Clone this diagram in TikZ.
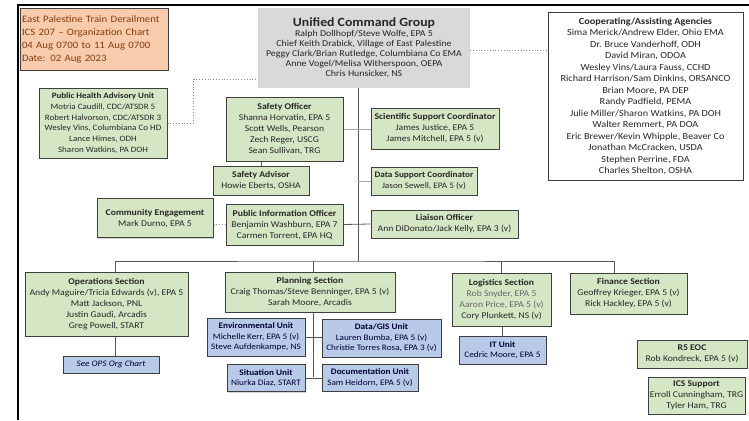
\documentclass[tikz,border=0pt]{standalone}
\usepackage{fontspec}
\setmainfont{Carlito}[FakeStretch=1.1]
\usetikzlibrary{shadows}

\definecolor{boxgreen}{HTML}{D5E6C5}
\definecolor{boxblue}{HTML}{B9CAE8}
\definecolor{boxgray}{HTML}{D9D9D9}
\definecolor{boxpeach}{HTML}{F8CBAD}
\definecolor{titletext}{HTML}{843C0C}
\definecolor{boxline}{HTML}{3F3F3F}
\definecolor{linkgray}{HTML}{595959}

\tikzset{
  orgbox/.style={draw=boxline, line width=1pt, align=center, inner sep=1pt,
    text=black!85, font=\fontsize{8.8}{11}\selectfont,
    drop shadow={opacity=0.35, shadow xshift=1.3pt, shadow yshift=-1.3pt}},
  greenbox/.style={orgbox, fill=boxgreen},
  bluebox/.style={orgbox, fill=boxblue, text=blue!20!black, font=\fontsize{8.4}{10.5}\selectfont},
  link/.style={draw=linkgray, line width=0.8pt},
  thinlink/.style={draw=black!35, line width=0.7pt},
  dotlink/.style={draw=black!45, line width=0.8pt, dotted},
}

\begin{document}
\begin{tikzpicture}[x=1pt, y=-1pt]
    \useasboundingbox (0,0) rectangle (749,420);
    \draw[line width=1.5pt] (18,420) -- (18,5) -- (749,5);

    % header and command
    \node[orgbox, fill=boxpeach, align=left, text width=144pt, inner xsep=2pt, inner ysep=4pt, minimum height=61pt,
      text=titletext, font=\fontsize{9.8}{13}\selectfont] (title) at (94,39.5)
      {East Palestine Train Derailment\\ ICS 207 -- Organization Chart\\ 04 Aug 0700 to 11 Aug 0700\\ Date: 02 Aug 2023};
    \node[fill=boxgray, align=center, text=black!85, font=\fontsize{9}{10}\selectfont,
      minimum width=212pt, minimum height=80pt] (uc) at (364,48)
      {{\fontsize{12.5}{14}\selectfont\textbf{Unified Command Group}}\\
       Ralph Dollhopf/Steve Wolfe, EPA 5\\ Chief Keith Drabick, Village of East Palestine\\
       Peggy Clark/Brian Rutledge, Columbiana Co EMA\\ Anne Vogel/Melisa Witherspoon, OEPA\\ Chris Hunsicker, NS};
    \node[orgbox, fill=white, font=\fontsize{9.3}{11.5}\selectfont,
      minimum width=195pt, minimum height=167pt] (agencies) at (645.5,96.5)
      {\textbf{Cooperating/Assisting Agencies}\\ Sima Merick/Andrew Elder, Ohio EMA\\ Dr. Bruce Vanderhoff, ODH\\
       David Miran, ODOA\\ Wesley Vins/Laura Fauss, CCHD\\ Richard Harrison/Sam Dinkins, ORSANCO\\
       Brian Moore, PA DEP\\ Randy Padfield, PEMA\\ Julie Miller/Sharon Watkins, PA DOH\\
       Walter Remmert, PA DOA\\ Eric Brewer/Kevin Whipple, Beaver Co\\ Jonathan McCracken, USDA\\
       Stephen Perrine, FDA\\ Charles Shelton, OSHA};

    % command staff
    \node[greenbox, font=\fontsize{8.2}{10.7}\selectfont, minimum width=128pt, minimum height=70pt] (health) at (103,123)
      {\textbf{Public Health Advisory Unit}\\ Motria Caudill, CDC/ATSDR 5\\ Robert Halvorson, CDC/ATSDR 3\\
       Wesley Vins, Columbiana Co HD\\ Lance Himes, ODH\\ Sharon Watkins, PA DOH};
    \node[greenbox, minimum width=117pt, minimum height=64pt] (safety) at (284.5,129)
      {\textbf{Safety Officer}\\ Shanna Horvatin, EPA 5\\ Scott Wells, Pearson\\ Zech Reger, USCG\\ Sean Sullivan, TRG};
    \node[greenbox, minimum width=128pt, minimum height=41pt] (science) at (435,128.5)
      {\textbf{Scientific Support Coordinator}\\ James Justice, EPA 5\\ James Mitchell, EPA 5 (v)};
    \node[greenbox, minimum width=96pt, minimum height=29pt] (advisor) at (261,180.5)
      {\textbf{Safety Advisor}\\ Howie Eberts, OSHA};
    \node[greenbox, font=\fontsize{8.4}{11}\selectfont, minimum width=106pt, minimum height=28pt] (datasup) at (424,181)
      {\textbf{Data Support Coordinator}\\ Jason Sewell, EPA 5 (v)};
    \node[greenbox, minimum width=117pt, minimum height=41pt] (pio) at (284.5,224.5)
      {\textbf{Public Information Officer}\\ Benjamin Washburn, EPA 7\\ Carmen Torrent, EPA HQ};
    \node[greenbox, minimum width=116pt, minimum height=39pt] (community) at (155,218)
      {\textbf{Community Engagement}\\ Mark Durno, EPA 5};
    \node[greenbox, minimum width=147pt, minimum height=28pt] (liaison) at (444.5,224)
      {\textbf{Liaison Officer}\\ Ann DiDonato/Jack Kelly, EPA 3 (v)};

    % general staff
    \node[greenbox, minimum width=163pt, minimum height=64pt] (ops) at (106.5,304)
      {\textbf{Operations Section}\\ Andy Maguire/Tricia Edwards (v), EPA 5\\ Matt Jackson, PNL\\
       Justin Gaudi, Arcadis\\ Greg Powell, START};
    \node[bluebox, minimum width=96pt, minimum height=17pt] (seeops) at (111,364.5)
      {\textit{See OPS Org Chart}};
    \node[greenbox, minimum width=170pt, minimum height=40pt] (planning) at (310,292)
      {\textbf{Planning Section}\\ Craig Thomas/Steve Benninger, EPA 5 (v)\\ Sarah Moore, Arcadis};
    \node[bluebox, minimum width=98pt, minimum height=38pt] (env) at (256,337)
      {\textbf{Environmental Unit}\\ Michelle Kerr, EPA 5 (v)\\ Steve Aufdenkampe, NS};
    \node[bluebox, minimum width=119pt, minimum height=38pt] (gis) at (381.5,338)
      {\textbf{Data/GIS Unit}\\ Lauren Bumba, EPA 5 (v)\\ Christie Torres Rosa, EPA 3 (v)};
    \node[bluebox, minimum width=78pt, minimum height=27pt] (situation) at (266,378)
      {\textbf{Situation Unit}\\ Niurka Diaz, START};
    \node[bluebox, minimum width=96pt, minimum height=27pt] (documentation) at (370,377.5)
      {\textbf{Documentation Unit}\\ Sam Heidorn, EPA 5 (v)};
    \node[greenbox, minimum width=99pt, minimum height=53pt] (logistics) at (501.5,299.5)
      {\textbf{Logistics Section}\\ {\color{black!60}Rob Snyder, EPA 5}\\ {\color{black!60}Aaron Price, EPA 5 (v)}\\ Cory Plunkett, NS (v)};
    \node[bluebox, minimum width=87pt, minimum height=28pt] (it) at (502.5,350)
      {\textbf{IT Unit}\\ Cedric Moore, EPA 5};
    \node[greenbox, minimum width=117pt, minimum height=41pt] (finance) at (628.5,293.5)
      {\textbf{Finance Section}\\ Geoffrey Krieger, EPA 5 (v)\\ Rick Hackley, EPA 5 (v)};
    \node[greenbox, minimum width=110pt, minimum height=28pt] (rseoc) at (692,354)
      {\textbf{R5 EOC}\\ Rob Kondreck, EPA 5 (v)};
    \node[greenbox, minimum width=97pt, minimum height=37pt] (icssupport) at (696.5,395.5)
      {\textbf{ICS Support}\\ Erroll Cunningham, TRG\\ Tyler Ham, TRG};

    % connectors
    \coordinate (spine) at (358,261);
    \coordinate (planspine) at (313,377);
    \draw[link] (uc.south -| spine) -- (spine);
    \draw[link] ([xshift=8.5pt]ops.north) |- (spine) -| ([xshift=-14.5pt]finance.north);
    \draw[link] (planspine |- spine) -- (planspine |- planning.north);
    \draw[link] (logistics.north |- spine) -- (logistics.north);
    \draw[thinlink] (safety.east) -- (safety.east -| science.west);
    \draw[thinlink] (datasup.west -| spine) -- (datasup.west);
    \draw[link] (pio.east) -- (liaison.west);
    \draw[link] (advisor.north |- safety.south) -- (advisor.north);
    \draw[dotlink] (community.east |- pio.west) -- (pio.west);
    \draw[dotlink] (health.east) -- ++(26,0) |- ([yshift=-31pt]uc.west);
    \draw[dotlink] ([yshift=-2pt]uc.east) -- ([yshift=-2pt]uc.east -| agencies.west);
    \draw[link] ([xshift=8.5pt]ops.south) -- ([xshift=8.5pt]ops.south |- seeops.north);
    \draw[link] (planspine |- planning.south) -- (planspine);
    \draw[link] (env.east) -- (env.east -| gis.west);
    \draw[link] (situation.east) -- (situation.east -| documentation.west);
    \draw[link] (it.north |- logistics.south) -- (it.north);
\end{tikzpicture}
\end{document}
